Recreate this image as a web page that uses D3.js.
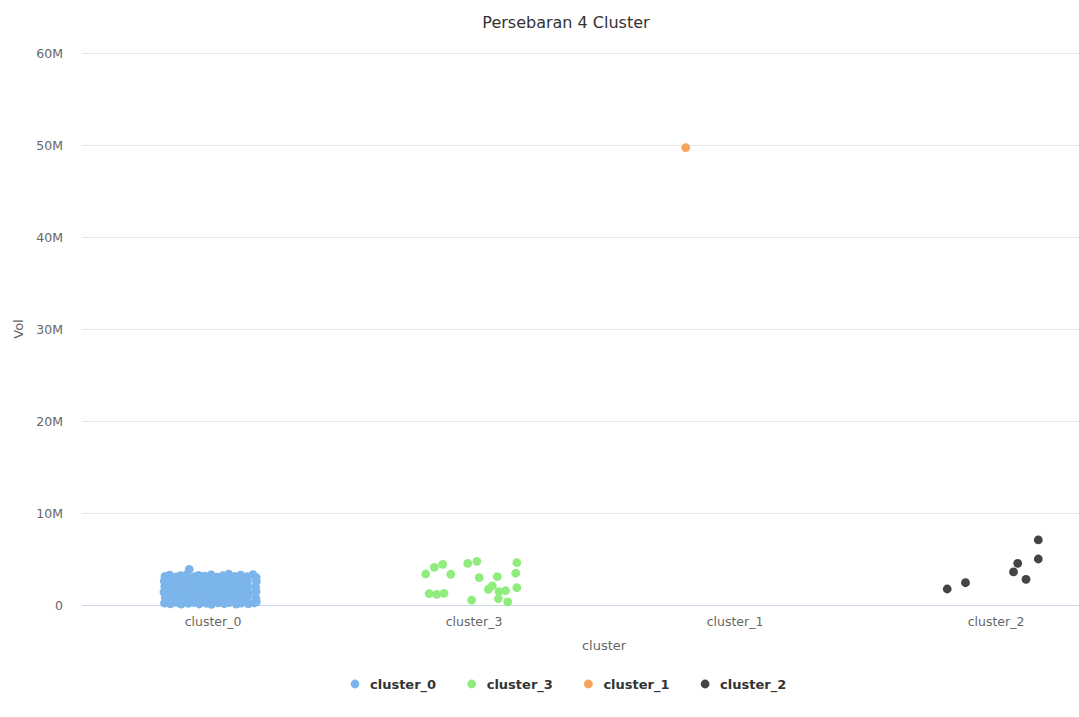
<!DOCTYPE html>
<html>
<head>
<meta charset="utf-8">
<script src="https://cdn.jsdelivr.net/npm/d3@7"></script>
<style>
  html, body { margin: 0; padding: 0; background: #ffffff; }
  svg { display: block; font-family: "DejaVu Sans", Verdana, sans-serif; }
</style>
</head>
<body>
<svg id="chart" width="1079" height="717"></svg>
<script>
// ---- data ----
const chartTitle = "Persebaran 4 Cluster";
const xAxisTitle = "cluster";
const yAxisTitle = "Vol";
const categories = ["cluster_0", "cluster_3", "cluster_1", "cluster_2"];
const seriesColors = ["#7cb5ec", "#90ed7d", "#f7a35c", "#434348"];
const yTicks = [0, 10e6, 20e6, 30e6, 40e6, 50e6, 60e6];
const yTickLabels = ["0", "10M", "20M", "30M", "40M", "50M", "60M"];

// [jitter offset from category, Vol in millions]
const cluster0Points = [
  [-0.184,0.21],[-0.161,0.12],[-0.139,0.28],[-0.120,0.09],[-0.093,0.17],[-0.070,0.25],[-0.051,0.11],[-0.024,0.19],
  [-0.004,0.08],[0.021,0.23],[0.045,0.14],[0.064,0.27],[0.091,0.10],[0.110,0.20],[0.137,0.13],[0.160,0.22],[0.168,0.35],
  [-0.181,0.82],[-0.166,0.71],[-0.143,0.88],[-0.116,0.76],[-0.097,0.69],[-0.074,0.91],[-0.047,0.78],[-0.028,0.66],
  [-0.001,0.85],[0.018,0.73],[0.041,0.90],[0.068,0.70],[0.087,0.81],[0.114,0.67],[0.133,0.86],[0.166,0.74],
  [-0.186,1.41],[-0.159,1.33],[-0.140,1.49],[-0.121,1.28],[-0.092,1.44],[-0.069,1.36],[-0.052,1.52],[-0.023,1.30],
  [-0.006,1.46],[0.023,1.38],[0.039,1.27],[0.067,1.50],[0.092,1.34],[0.109,1.43],[0.138,1.29],[0.167,1.47],
  [-0.183,2.02],[-0.162,1.93],[-0.137,2.10],[-0.119,1.95],[-0.094,2.06],[-0.071,1.90],[-0.048,2.08],[-0.027,1.97],
  [0.002,2.11],[0.019,1.92],[0.044,2.04],[0.063,1.96],[0.088,2.09],[0.113,1.91],[0.136,2.03],[0.165,1.98],
  [-0.185,2.61],[-0.160,2.53],[-0.142,2.68],[-0.117,2.57],[-0.096,2.66],[-0.073,2.50],[-0.050,2.63],[-0.025,2.55],
  [-0.002,2.70],[0.022,2.52],[0.042,2.64],[0.065,2.58],[0.090,2.69],[0.111,2.54],[0.134,2.62],[0.168,2.56],
  [-0.182,3.12],[-0.164,3.25],[-0.138,3.05],[-0.122,3.18],[-0.098,3.31],[-0.089,3.88],[-0.068,3.09],[-0.053,3.22],
  [-0.029,3.14],[-0.005,3.28],[0.017,3.03],[0.040,3.20],[0.062,3.36],[0.086,3.11],[0.108,3.24],[0.131,3.07],
  [0.155,3.30],[0.167,3.00]
];
const cluster3Points = [
  [-0.183,3.37],[-0.150,4.10],[-0.118,4.42],[-0.087,3.34],[-0.022,4.53],[0.013,4.75],[0.022,2.97],
  [0.091,3.08],[0.166,4.60],[0.162,3.45],[0.166,1.88],[-0.170,1.23],[-0.141,1.16],[-0.113,1.27],
  [-0.007,0.54],[0.057,1.71],[0.072,2.07],[0.098,1.45],[0.095,0.68],[0.123,1.55],[0.131,0.33]
];
const cluster1Points = [[-0.187,49.71]];
const cluster2Points = [
  [-0.185,1.74],[-0.115,2.42],[0.069,3.59],[0.085,4.53],[0.117,2.79],[0.164,5.00],[0.164,7.07]
];
const seriesPoints = [cluster0Points, cluster3Points, cluster1Points, cluster2Points];

// ---- layout ----
const svg = d3.select("#chart");
const plot = { left: 82, right: 1126, top: 53, bottom: 605 };

const x = d3.scaleLinear().domain([-0.5, categories.length - 0.5]).range([plot.left, plot.right]);
const y = d3.scaleLinear().domain([0, 60e6]).range([plot.bottom, plot.top]);

// title
svg.append("text").attr("x", 566).attr("y", 28).attr("text-anchor", "middle")
  .attr("fill", "#333333").attr("font-size", "16px").text(chartTitle);

// grid + y axis
const yAxis = d3.axisLeft(y).tickValues(yTicks)
  .tickFormat((d, i) => yTickLabels[i])
  .tickSize(-(plot.right - plot.left)).tickPadding(19);
const gy = svg.append("g").attr("transform", `translate(${plot.left},0)`).call(yAxis);
gy.select(".domain").remove();
gy.selectAll(".tick line").attr("stroke", "#e6e6e6").attr("stroke-width", 1);
gy.selectAll(".tick text").attr("fill", "#666666").attr("font-size", "12.5px")
  .attr("font-family", "DejaVu Sans, sans-serif");

// x axis
const xAxis = d3.axisBottom(x).tickValues(d3.range(categories.length))
  .tickFormat(i => categories[i]).tickSize(0).tickPadding(12);
const gx = svg.append("g").attr("transform", `translate(0,${plot.bottom})`).call(xAxis);
gx.select(".domain").attr("stroke", "#ccd6eb").attr("d", `M${plot.left},0.5H${plot.right}`);
gx.selectAll(".tick text").attr("fill", "#666666").attr("font-size", "12.5px")
  .attr("font-family", "DejaVu Sans, sans-serif");

// axis titles
svg.append("text").attr("x", 604).attr("y", 650).attr("text-anchor", "middle")
  .attr("fill", "#666666").attr("font-size", "13px").text(xAxisTitle);
svg.append("text").attr("transform", `translate(23,${(plot.top + plot.bottom) / 2}) rotate(-90)`)
  .attr("text-anchor", "middle").attr("fill", "#666666").attr("font-size", "13px").text(yAxisTitle);

// points
seriesPoints.forEach((pts, si) => {
  svg.append("g").selectAll("circle").data(pts).join("circle")
    .attr("cx", d => x(si + d[0]))
    .attr("cy", d => y(d[1] * 1e6))
    .attr("r", 4.4)
    .attr("fill", seriesColors[si]);
});

// legend
const legend = svg.append("g").attr("transform", "translate(355,684)");
categories.forEach((c, i) => {
  const g = legend.append("g").attr("transform", `translate(${i * 116.7},0)`);
  g.append("circle").attr("r", 4.4).attr("fill", seriesColors[i]);
  g.append("text").attr("x", 15).attr("y", 5).attr("fill", "#333333")
    .attr("font-size", "13px").attr("font-weight", "bold").text(c);
});
</script>
</body>
</html>
